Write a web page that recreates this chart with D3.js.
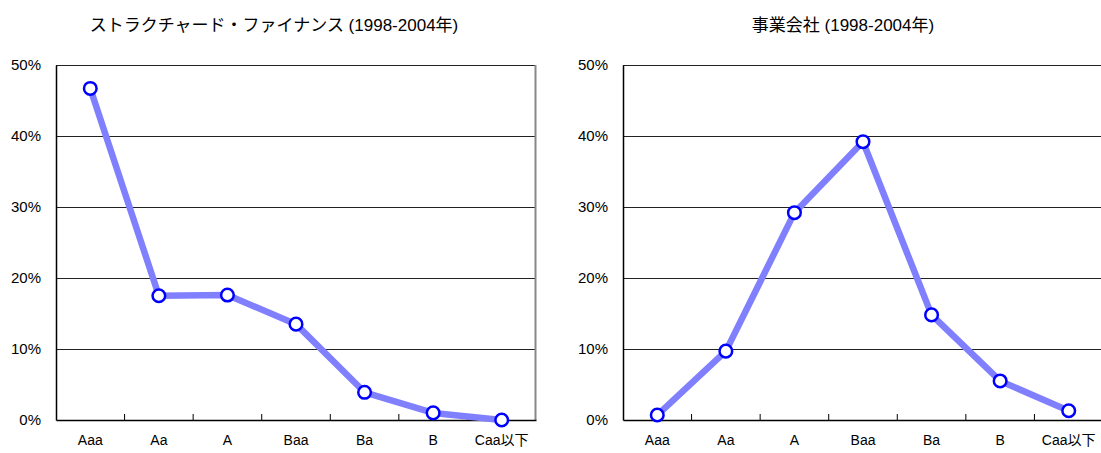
<!DOCTYPE html>
<html>
<head>
<meta charset="utf-8">
<script src="https://cdn.jsdelivr.net/npm/d3@7/dist/d3.min.js"></script>
<style>
  html, body { margin: 0; padding: 0; background: #fff; }
  svg { display: block; }
  text { font-family: "Liberation Sans", Arial, "Noto Sans CJK JP", sans-serif; fill: #000; }
</style>
</head>
<body>
<svg id="chart" width="1101" height="453"></svg>
<script>
// Rating categories shared by both panels
const ratings = ["Aaa", "Aa", "A", "Baa", "Ba", "B", "Caa以下"];

// Share of ratings (%) – structured finance, 1998-2004
const structuredShare = [46.7, 17.5, 17.6, 13.5, 3.9, 1.0, 0.0];
// Share of ratings (%) – corporates, 1998-2004
const corporateShare = [0.7, 9.7, 29.2, 39.2, 14.8, 5.5, 1.3];

const titles = ["ストラクチャード・ファイナンス (1998-2004年)", "事業会社 (1998-2004年)"];
const yTicks = [0, 10, 20, 30, 40, 50];

const svg = d3.select("#chart");

const panels = [
  { title: titles[0], values: structuredShare, left: 56, right: 536, titleX: 274 },
  { title: titles[1], values: corporateShare, left: 623, right: 1103, titleX: 843 }
];
const plotTop = 65, plotBottom = 420;

panels.forEach(p => {
  const g = svg.append("g");

  const x = d3.scaleBand().domain(ratings).range([p.left, p.right]).padding(0);
  const y = d3.scaleLinear().domain([0, 50]).range([plotBottom, plotTop]);
  const cx = d => x(d) + x.bandwidth() / 2;

  // title
  g.append("text")
    .attr("x", p.titleX).attr("y", 31)
    .attr("text-anchor", "middle")
    .style("font-size", "17px")
    .text(p.title);

  // horizontal gridlines
  g.selectAll("line.grid").data(yTicks.filter(t => t > 0)).join("line")
    .attr("class", "grid")
    .attr("x1", p.left).attr("x2", p.right)
    .attr("y1", d => Math.round(y(d)) + 0.5).attr("y2", d => Math.round(y(d)) + 0.5)
    .attr("stroke", "#222").attr("stroke-width", 1);

  // right frame edge
  g.append("line")
    .attr("x1", p.right - 0.5).attr("x2", p.right - 0.5)
    .attr("y1", plotTop).attr("y2", plotBottom)
    .attr("stroke", "#888").attr("stroke-width", 2);

  // y axis
  const yAxis = d3.axisLeft(y).tickValues(yTicks).tickSize(0).tickPadding(15)
    .tickFormat(d => d + "%");
  const ya = g.append("g").attr("transform", `translate(${p.left},0)`).call(yAxis);
  ya.select(".domain").attr("stroke", "#000").attr("stroke-width", 1.5);
  ya.selectAll("text").style("font-size", "15px").style("font-family", "Liberation Sans, Arial, sans-serif");

  // x axis with labels centred on each category
  const xAxis = d3.axisBottom(x).tickSize(0).tickPadding(15);
  const xa = g.append("g").attr("transform", `translate(0,${plotBottom})`).call(xAxis);
  xa.select(".domain").attr("stroke", "#000").attr("stroke-width", 1.5);
  xa.selectAll("text").style("font-size", "14px").style("font-family", "Liberation Sans, Arial, Noto Sans CJK JP, sans-serif");

  // inner tick marks between categories, pointing up
  g.selectAll("line.sep").data(ratings.slice(1)).join("line")
    .attr("class", "sep")
    .attr("x1", d => x(d)).attr("x2", d => x(d))
    .attr("y1", plotBottom).attr("y2", plotBottom - 6)
    .attr("stroke", "#000").attr("stroke-width", 1);

  const pts = ratings.map((r, i) => ({ r, v: p.values[i] }));

  // connecting line
  g.append("path")
    .datum(pts)
    .attr("fill", "none")
    .attr("stroke", "#8080FF")
    .attr("stroke-width", 6.5)
    .attr("stroke-linejoin", "round")
    .attr("d", d3.line().x(d => cx(d.r)).y(d => y(d.v)));

  // markers
  g.selectAll("circle").data(pts).join("circle")
    .attr("cx", d => cx(d.r)).attr("cy", d => y(d.v))
    .attr("r", 6.3)
    .attr("fill", "#fff")
    .attr("stroke", "#0000FF")
    .attr("stroke-width", 2.5);
});
</script>
</body>
</html>
